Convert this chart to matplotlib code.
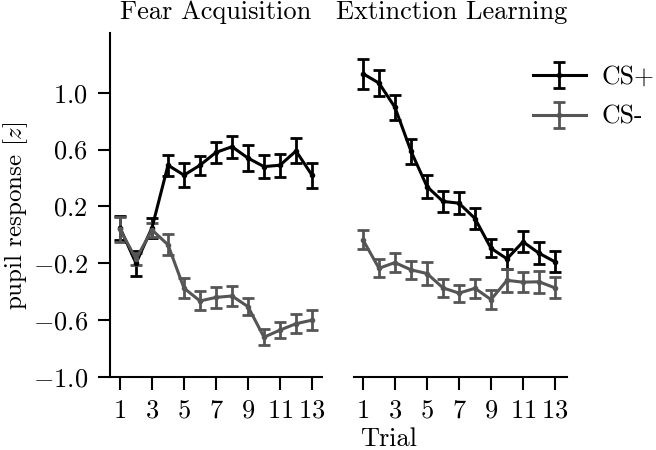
import numpy as np
import matplotlib
matplotlib.use('Agg')
import matplotlib.pyplot as plt

# trials and values
trials = np.arange(1, 14)

acq_csp = [0.05, -0.20, 0.05, 0.49, 0.42, 0.49, 0.58, 0.62, 0.54, 0.48, 0.49, 0.59, 0.42]
acq_csp_err = [0.085, 0.088, 0.07, 0.074, 0.082, 0.068, 0.076, 0.076, 0.092, 0.083, 0.081, 0.088, 0.088]
acq_csm = [0.04, -0.17, 0.035, -0.07, -0.375, -0.465, -0.44, -0.43, -0.505, -0.72, -0.67, -0.625, -0.60]
acq_csm_err = [0.088, 0.04, 0.047, 0.074, 0.07, 0.067, 0.073, 0.073, 0.062, 0.055, 0.059, 0.067, 0.068]

ext_csp = [1.134, 1.068, 0.897, 0.589, 0.34, 0.235, 0.223, 0.115, -0.094, -0.169, -0.049, -0.129, -0.19]
ext_csp_err = [0.106, 0.094, 0.09, 0.088, 0.082, 0.076, 0.076, 0.074, 0.065, 0.072, 0.073, 0.076, 0.073]
ext_csm = [-0.035, -0.235, -0.195, -0.246, -0.272, -0.373, -0.41, -0.376, -0.455, -0.32, -0.333, -0.33, -0.373]
ext_csm_err = [0.066, 0.065, 0.067, 0.063, 0.08, 0.065, 0.059, 0.065, 0.068, 0.081, 0.07, 0.079, 0.073]

xticks = [1, 3, 5, 7, 9, 11, 13]
yticks = [-1.0, -0.6, -0.2, 0.2, 0.6, 1.0]

plt.rcParams['font.family'] = 'cmr10'
plt.rcParams['mathtext.fontset'] = 'cm'
plt.rcParams['axes.formatter.use_mathtext'] = True
plt.rcParams['font.size'] = 18.5
plt.rcParams['axes.linewidth'] = 1.5

W, H = 656, 450
fig = plt.figure(figsize=(W / 100, H / 100), dpi=100)

def box(x0, x1, y0, y1):
    return [x0 / W, 1 - y1 / H, (x1 - x0) / W, (y1 - y0) / H]

ax1 = fig.add_axes(box(110, 322, 33, 377))
ax2 = fig.add_axes(box(354, 567, 33, 377))

black = 'black'
gray = '#555555'
kw = dict(lw=2.2, marker='o', ms=3, capsize=4, capthick=2, elinewidth=2)

ax1.errorbar(trials, acq_csp, yerr=acq_csp_err, color=black, label='CS+', **kw)
ax1.errorbar(trials, acq_csm, yerr=acq_csm_err, color=gray, label='CS-', **kw)
ax2.errorbar(trials, ext_csp, yerr=ext_csp_err, color=black, label='CS+', **kw)
ax2.errorbar(trials, ext_csm, yerr=ext_csm_err, color=gray, label='CS-', **kw)

for ax in (ax1, ax2):
    ax.set_ylim(-1.0, 1.42)
    ax.set_xticks(xticks)
    ax.spines['top'].set_visible(False)
    ax.spines['right'].set_visible(False)
    ax.tick_params(direction='out', length=9, width=1.5, pad=7, labelsize=19)

ax1.set_xlim(0.375, 13.625)
ax2.set_xlim(0.44, 13.75)
ax1.set_yticks(yticks)
ax2.spines['left'].set_visible(False)
ax2.tick_params(axis='y', left=False, labelleft=False)

ax1.set_title('Fear Acquisition', pad=10, fontsize=19)
ax2.set_title('Extinction Learning', pad=10, fontsize=19, x=0.46)
ax1.set_ylabel('pupil response [$z$]', fontsize=18)
ax1.yaxis.set_label_coords(-0.376, 0.47)
fig.text(389 / W, 1 - 439 / H, 'Trial', ha='center', va='center', fontsize=19)

ax2.legend(loc='upper left', bbox_to_anchor=(533 / W, 1 - 65 / H), bbox_transform=fig.transFigure,
           frameon=False, borderpad=0, borderaxespad=0, handlelength=2.06, fontsize=18.5,
           handletextpad=0.62, labelspacing=0.64)

fig.savefig('out.png', dpi=100)
